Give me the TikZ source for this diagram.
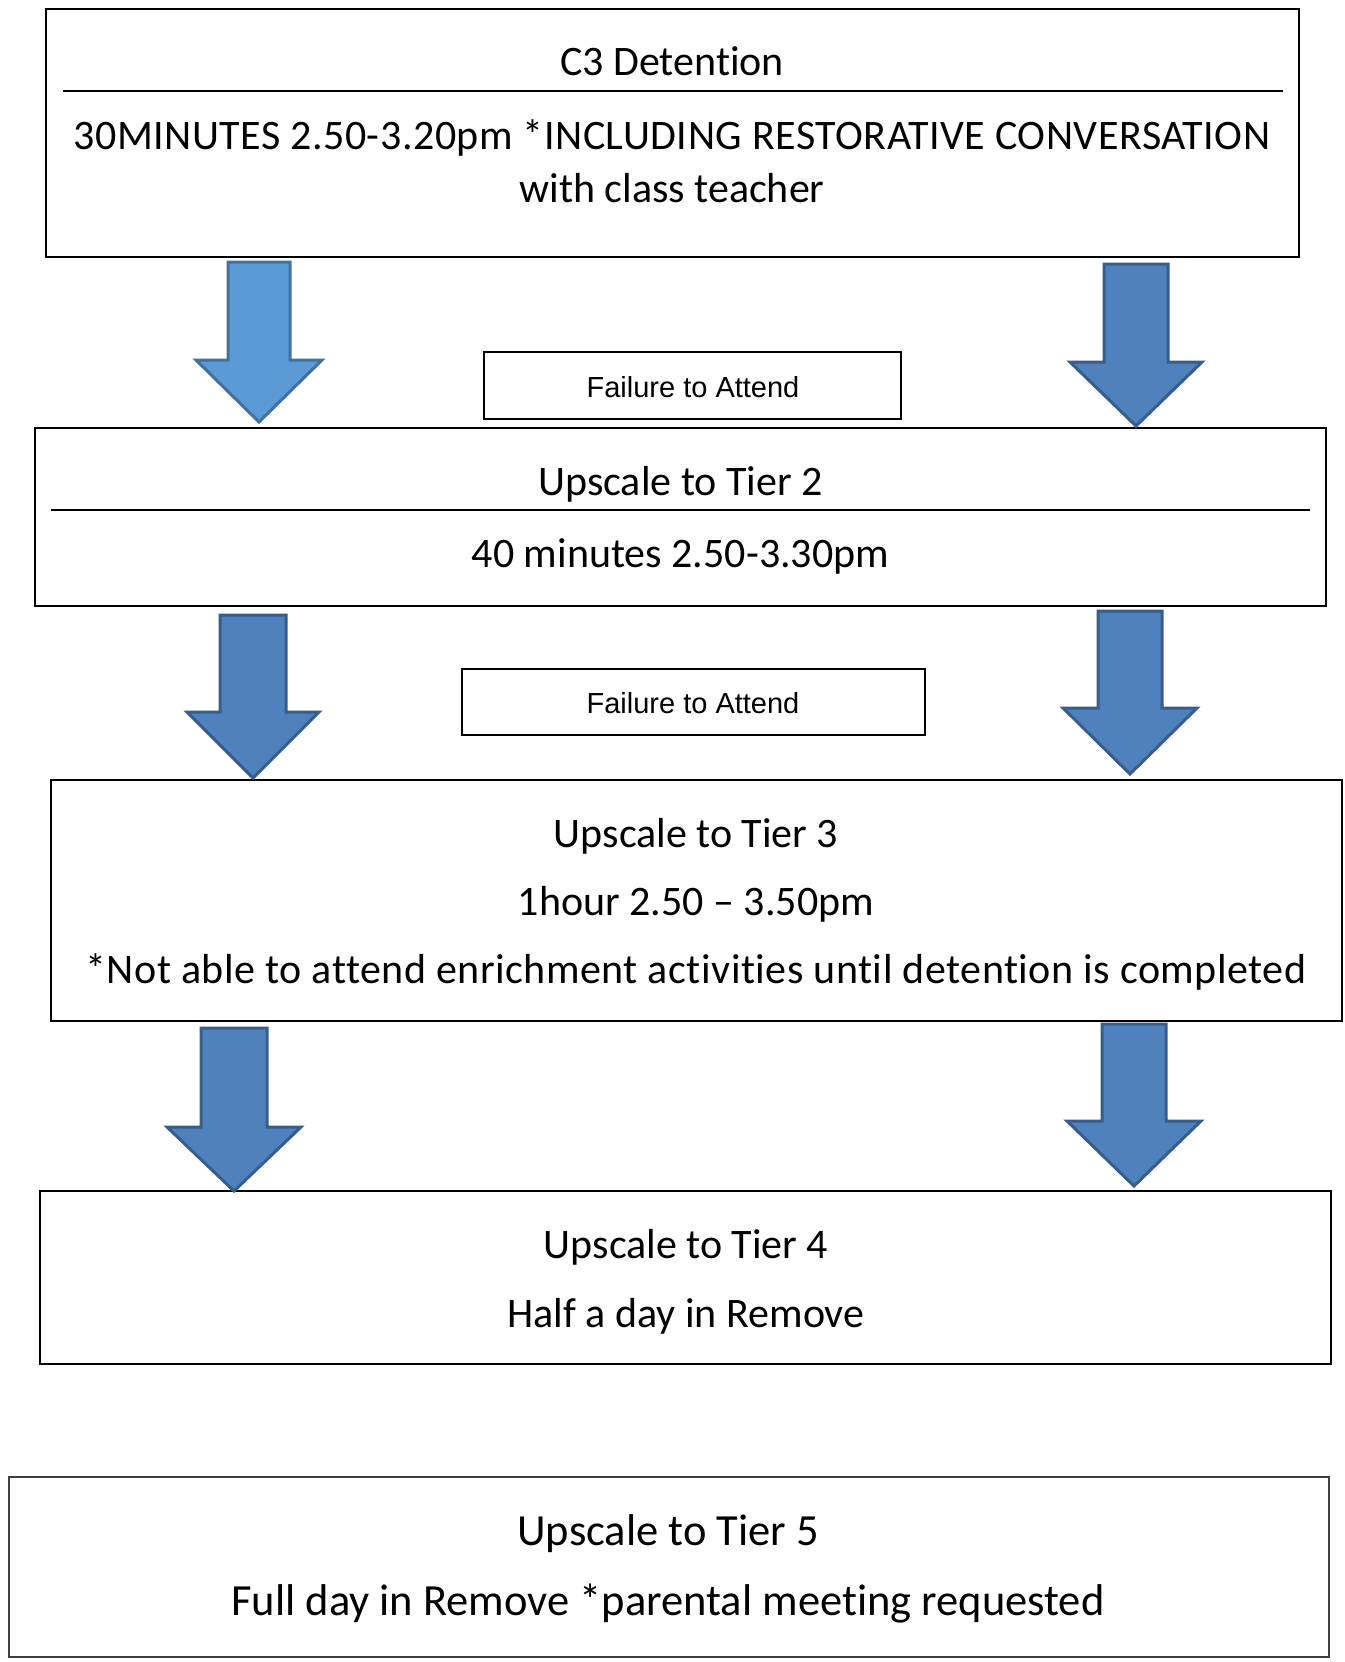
\documentclass[tikz,border=0pt]{standalone}
\usepackage{fontspec}
\setmainfont{Carlito}[Ligatures=NoCommon]
\newfontfamily\arialf{Liberation Sans}
\definecolor{arrlight}{HTML}{5B9BD5}
\definecolor{arrlightedge}{HTML}{41719C}
\definecolor{arrdark}{HTML}{4F81BD}
\definecolor{arrdarkedge}{HTML}{385D8A}
\newcommand{\blockarr}[7]{%
  \draw[#7] ({#1-#2},{#3}) -- ({#1+#2},{#3}) -- ({#1+#2},{#5}) -- ({#1+#4},{#5})
    -- ({#1},{#6}) -- ({#1-#4},{#5}) -- ({#1-#2},{#5}) -- cycle;}
\begin{document}
\begin{tikzpicture}[x=1pt,y=-1pt,
  tierbox/.style={draw=black,line width=2pt,rectangle,inner sep=0pt},
  failbox/.style={draw=black,line width=2pt,rectangle,inner sep=0pt},
  bigtxt/.style={font=\fontsize{42}{50}\selectfont,inner sep=0pt,anchor=base},
  widetxt/.style={font=\fontsize{42}{50}\selectfont\addfontfeature{LetterSpace=1.2},inner sep=0pt,anchor=base},
  lasttxt/.style={font=\fontsize{44.5}{52}\selectfont,inner sep=0pt,anchor=base},
  failtxt/.style={font=\arialf\fontsize{29}{34}\selectfont,inner sep=0pt,anchor=base},
  lightarr/.style={fill=arrlight,draw=arrlightedge,line width=3pt,line join=miter},
  darkarr/.style={fill=arrdark,draw=arrdarkedge,line width=3pt,line join=miter}]
\useasboundingbox (0,0) rectangle (1344,1662);
\fill[white] (0,0) rectangle (1344,1662);

% Box 1
\node[tierbox,minimum width=1253pt,minimum height=247pt] (b1) at (672,133) {};
\coordinate (l1a) at (62.5,91.2);
\coordinate (l1b) at (1282.6,91.2);
\draw[line width=2pt] (l1a) -- (l1b);
\node[bigtxt] (t1a) at (672,76) {C3 Detention};
\node[widetxt] (t1b) at (672,149) {30MINUTES 2.50-3.20pm *INCLUDING RESTORATIVE CONVERSATION};
\node[bigtxt] (t1c) at (672,202) {with class teacher};

% Box 2
\node[tierbox,minimum width=1291pt,minimum height=178pt] (b2) at (680.5,517) {};
\coordinate (l2a) at (51,510);
\coordinate (l2b) at (1310,510);
\draw[line width=2pt] (l2a) -- (l2b);
\node[bigtxt] (t2a) at (680.5,495.5) {Upscale to Tier 2};
\node[bigtxt] (t2b) at (680.5,567.5) {40 minutes 2.50-3.30pm};

% Box 3
\node[tierbox,minimum width=1291pt,minimum height=241pt] (b3) at (696.5,900.5) {};
\node[bigtxt] (t3a) at (696,847.5) {Upscale to Tier 3};
\node[bigtxt] (t3b) at (696,915.5) {1hour 2.50 – 3.50pm};
\node[widetxt] (t3c) at (696,983.5) {*Not able to attend enrichment activities until detention is completed};

% Box 4
\node[tierbox,minimum width=1291pt,minimum height=173pt] (b4) at (685.5,1277.5) {};
\node[bigtxt] (t4a) at (686,1258.5) {Upscale to Tier 4};
\node[bigtxt] (t4b) at (686,1327.5) {Half a day in Remove};

% Box 5
\node[tierbox,draw=black!75,minimum width=1320pt,minimum height=180pt] (b5) at (669,1567) {};
\node[lasttxt] (t5a) at (668,1545) {Upscale to Tier 5};
\node[lasttxt] (t5b) at (668,1615) {Full day in Remove *parental meeting requested};

% Failure boxes
\node[failbox,minimum width=417pt,minimum height=67pt] (f1) at (692.5,385.5) {};
\node[failtxt] (f1t) at (693,397.5) {Failure to Attend};
\node[failbox,minimum width=463pt,minimum height=66pt] (f2) at (693.5,702) {};
\node[failtxt] (f2t) at (693,713.5) {Failure to Attend};

% Block arrows
\blockarr{259}{31}{262}{63}{360}{422}{lightarr}
\blockarr{1136}{32}{264}{66}{362}{426}{darkarr}
\blockarr{253}{33}{615}{66}{712}{778}{darkarr}
\blockarr{1130}{32}{611}{67}{708}{774}{darkarr}
\blockarr{234}{33}{1028}{67}{1127}{1191}{darkarr}
\blockarr{1134}{32}{1024}{67}{1121}{1186}{darkarr}
\end{tikzpicture}
\end{document}
